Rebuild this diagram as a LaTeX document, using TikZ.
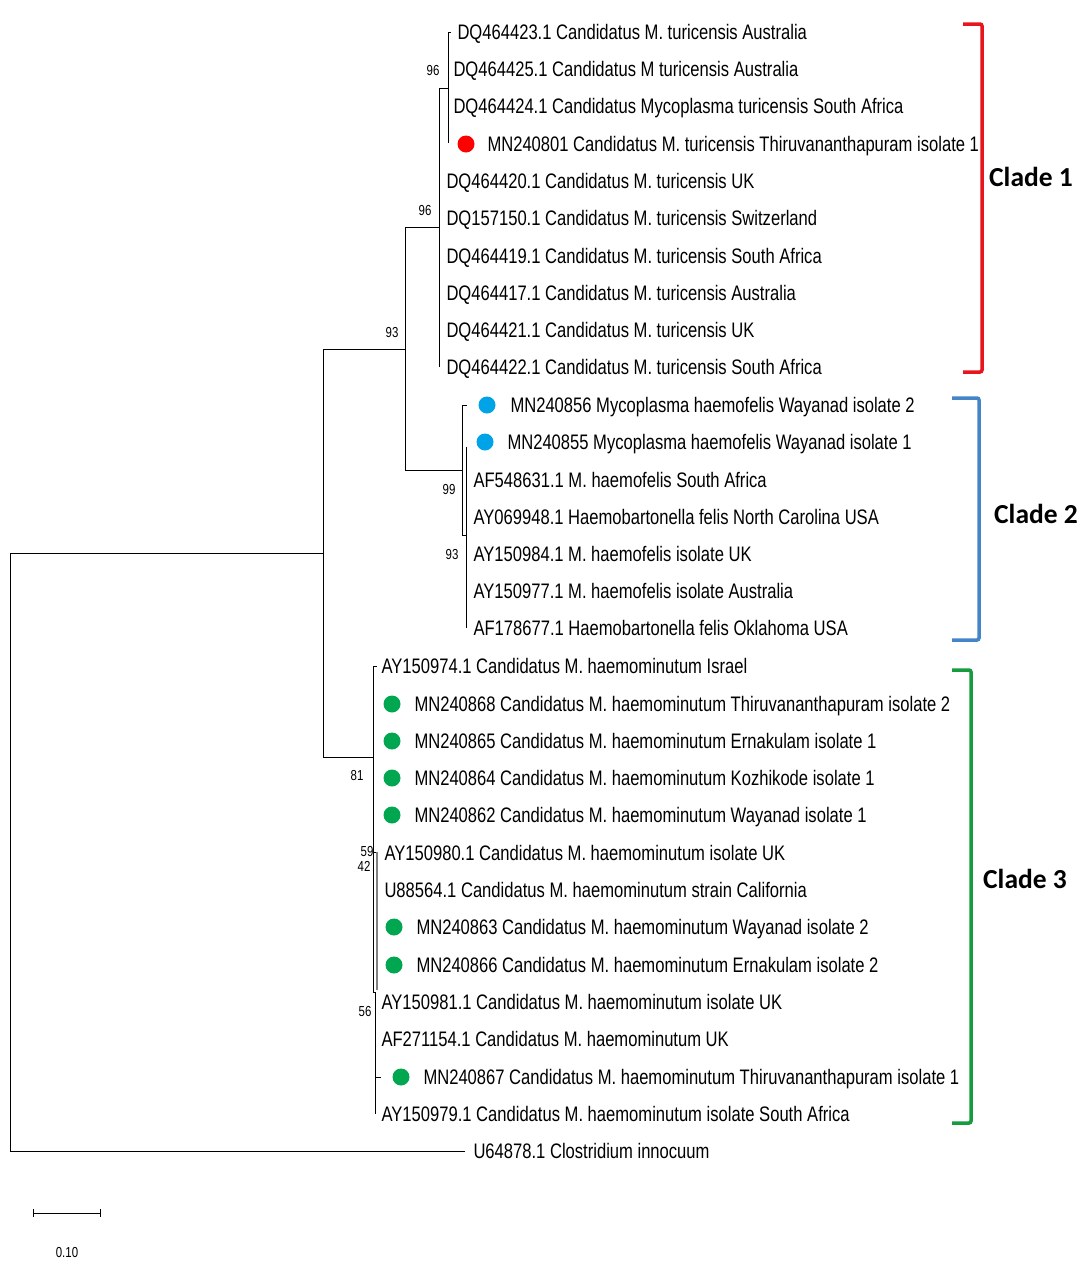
\documentclass[tikz,border=0pt]{standalone}
\usepackage{fontspec}
\setmainfont{Liberation Sans}[FakeStretch=0.79]
\newfontfamily\cladefont{Carlito}
\definecolor{cladered}{RGB}{232,20,30}
\definecolor{cladeblue}{RGB}{70,132,200}
\definecolor{cladegreen}{RGB}{22,155,62}
\definecolor{dotred}{RGB}{255,0,0}
\definecolor{dotblue}{RGB}{0,162,232}
\definecolor{dotgreen}{RGB}{0,166,80}

\begin{document}
\begin{tikzpicture}[x = 1pt, y = -1pt, line width = 1pt,
	taxon/.style = {anchor = base west, inner sep = 0pt, font = \fontsize{21}{21}\selectfont},
	boot/.style = {inner sep = 0pt, font = \fontsize{14.5}{14.5}\selectfont},
	tipdot/.style = {circle, inner sep = 0pt, minimum size = 17pt},
	clade/.style = {font = \cladefont\bfseries\fontsize{27.5}{27.5}\selectfont},
	bracket/.style = {line width = 3.5pt, rounded corners = 2pt}]
	
		\useasboundingbox (0, 0) rectangle (1084, 1270);
		
		% internal nodes
		\coordinate (root) at (10, 553);
		\coordinate (nB) at (323, 553);
		\coordinate (nA) at (405, 349);
		\coordinate (nC1) at (439, 227);
		\coordinate (nC1a) at (448, 88);
		\coordinate (nC2) at (462, 470);
		\coordinate (nC2a) at (466, 535);
		\coordinate (nC3) at (373, 757);
		\coordinate (nC3a) at (377, 852);
		\coordinate (nC3b) at (375, 992);
		
		% branch ends
		\coordinate (tOut) at (465, 1151);
		\coordinate (tC1top) at (451, 32);
		\coordinate (tC1abot) at (448, 143);
		\coordinate (tC1bot) at (439, 367);
		\coordinate (tC2top) at (467, 405);
		\coordinate (tC2atop) at (466, 447);
		\coordinate (tC2bot) at (466, 628);
		\coordinate (tC3top) at (377, 666);
		\coordinate (tC3a) at (377, 990);
		\coordinate (tC3b) at (381, 1077);
		\coordinate (tC3bot) at (375, 1114);
		
		\draw (root) |- (tOut);
		\draw (root) -- (nB);
		\draw (nB) |- (nA);
		\draw (nB) |- (nC3);
		\draw (nA) |- (nC1);
		\draw (nA) |- (nC2);
		\draw (nC1) |- (nC1a);
		\draw (nC1) -- (tC1bot);
		\draw (nC1a) |- (tC1top);
		\draw (nC1a) -- (tC1abot);
		\draw (nC2) |- (tC2top);
		\draw (nC2) |- (nC2a);
		\draw (tC2atop) -- (tC2bot);
		\draw (nC3) |- (tC3top);
		\draw (nC3) |- (nC3b);
		\draw (nC3 |- nC3a) -- (nC3a);
		\draw[gray, line width = 2.4pt] (nC3a) -- (tC3a);
		\draw (nC3b) |- (tC3b);
		\draw (nC3b) -- (tC3bot);
		
		% bootstrap values
		\node[boot] (b1) at (433, 71) {96};
		\node[boot] (b2) at (425, 211) {96};
		\node[boot] (b3) at (392, 333) {93};
		\node[boot] (b4) at (449, 489) {99};
		\node[boot] (b5) at (452, 554) {93};
		\node[boot] (b6) at (357, 775) {81};
		\node[boot] (b7) at (367, 851) {59};
		\node[boot] (b8) at (364, 866) {42};
		\node[boot] (b9) at (365, 1011) {56};
		
		% clade 1
		\node[taxon] (l1) at (457, 39.5) {DQ464423.1 Candidatus M. turicensis Australia};
		\node[taxon] (l2) at (453, 76.5) {DQ464425.1 Candidatus M turicensis Australia};
		\node[taxon] (l3) at (453, 113.5) {DQ464424.1 Candidatus Mycoplasma turicensis South Africa};
		\node[tipdot, fill = dotred] (d1) at (466, 144) {};
		\node[taxon] (l4) at (487, 151.5) {MN240801 Candidatus M. turicensis Thiruvananthapuram isolate 1};
		\node[taxon] (l5) at (446, 188.5) {DQ464420.1 Candidatus M. turicensis UK};
		\node[taxon] (l6) at (446, 225.5) {DQ157150.1 Candidatus M. turicensis Switzerland};
		\node[taxon] (l7) at (446, 263.5) {DQ464419.1 Candidatus M. turicensis South Africa};
		\node[taxon] (l8) at (446, 300.5) {DQ464417.1 Candidatus M. turicensis Australia};
		\node[taxon] (l9) at (446, 337.5) {DQ464421.1 Candidatus M. turicensis UK};
		\node[taxon] (l10) at (446, 374.5) {DQ464422.1 Candidatus M. turicensis South Africa};
		
		% clade 2
		\node[tipdot, fill = dotblue] (d2) at (487, 405) {};
		\node[taxon] (l11) at (510, 412.5) {MN240856 Mycoplasma haemofelis Wayanad isolate 2};
		\node[tipdot, fill = dotblue] (d3) at (485, 442) {};
		\node[taxon] (l12) at (507, 449.5) {MN240855 Mycoplasma haemofelis Wayanad isolate 1};
		\node[taxon] (l13) at (473, 487.5) {AF548631.1 M. haemofelis South Africa};
		\node[taxon] (l14) at (473, 524.5) {AY069948.1 Haemobartonella felis North Carolina USA};
		\node[taxon] (l15) at (473, 561.5) {AY150984.1 M. haemofelis isolate UK};
		\node[taxon] (l16) at (473, 598.5) {AY150977.1 M. haemofelis isolate Australia};
		\node[taxon] (l17) at (473, 635.5) {AF178677.1 Haemobartonella felis Oklahoma USA};
		
		% clade 3
		\node[taxon] (l18) at (381, 673.5) {AY150974.1 Candidatus M. haemominutum Israel};
		\node[tipdot, fill = dotgreen] (d4) at (392, 704) {};
		\node[taxon] (l19) at (414, 711.5) {MN240868 Candidatus M. haemominutum Thiruvananthapuram isolate 2};
		\node[tipdot, fill = dotgreen] (d5) at (392, 741) {};
		\node[taxon] (l20) at (414, 748.5) {MN240865 Candidatus M. haemominutum Ernakulam isolate 1};
		\node[tipdot, fill = dotgreen] (d6) at (392, 778) {};
		\node[taxon] (l21) at (414, 785.5) {MN240864 Candidatus M. haemominutum Kozhikode isolate 1};
		\node[tipdot, fill = dotgreen] (d7) at (392, 815) {};
		\node[taxon] (l22) at (414, 822.5) {MN240862 Candidatus M. haemominutum Wayanad isolate 1};
		\node[taxon] (l23) at (384, 860.5) {AY150980.1 Candidatus M. haemominutum isolate UK};
		\node[taxon] (l24) at (384, 897.5) {U88564.1 Candidatus M. haemominutum strain California};
		\node[tipdot, fill = dotgreen] (d8) at (394, 927) {};
		\node[taxon] (l25) at (416, 934.5) {MN240863 Candidatus M. haemominutum Wayanad isolate 2};
		\node[tipdot, fill = dotgreen] (d9) at (394, 965) {};
		\node[taxon] (l26) at (416, 972.5) {MN240866 Candidatus M. haemominutum Ernakulam isolate 2};
		\node[taxon] (l27) at (381, 1009.5) {AY150981.1 Candidatus M. haemominutum isolate UK};
		\node[taxon] (l28) at (381, 1046.5) {AF271154.1 Candidatus M. haemominutum UK};
		\node[tipdot, fill = dotgreen] (d10) at (401, 1077) {};
		\node[taxon] (l29) at (423, 1084.5) {MN240867 Candidatus M. haemominutum Thiruvananthapuram isolate 1};
		\node[taxon] (l30) at (381, 1121.5) {AY150979.1 Candidatus M. haemominutum isolate South Africa};
		
		% outgroup
		\node[taxon] (l31) at (473, 1158.5) {U64878.1 Clostridium innocuum};
		
		% clade brackets
		\draw[bracket, cladered] (963, 24) -| (982, 372) -- (963, 372);
		\draw[bracket, cladeblue] (952, 398) -| (979, 640) -- (952, 640);
		\draw[bracket, cladegreen] (952, 670) -| (971, 1123) -- (952, 1123);
		
		\node[clade] (c1) at (1031, 177) {Clade 1};
		\node[clade] (c2) at (1036, 514) {Clade 2};
		\node[clade] (c3) at (1025, 879) {Clade 3};
		
		% scale bar
		\coordinate (sbL) at (33, 1213);
		\coordinate (sbR) at (101, 1213);
		\draw[|-|] (sbL) -- (sbR);
		\node[boot] (sb) at (67, 1252) {0.10};
	\end{tikzpicture}
\end{document}
